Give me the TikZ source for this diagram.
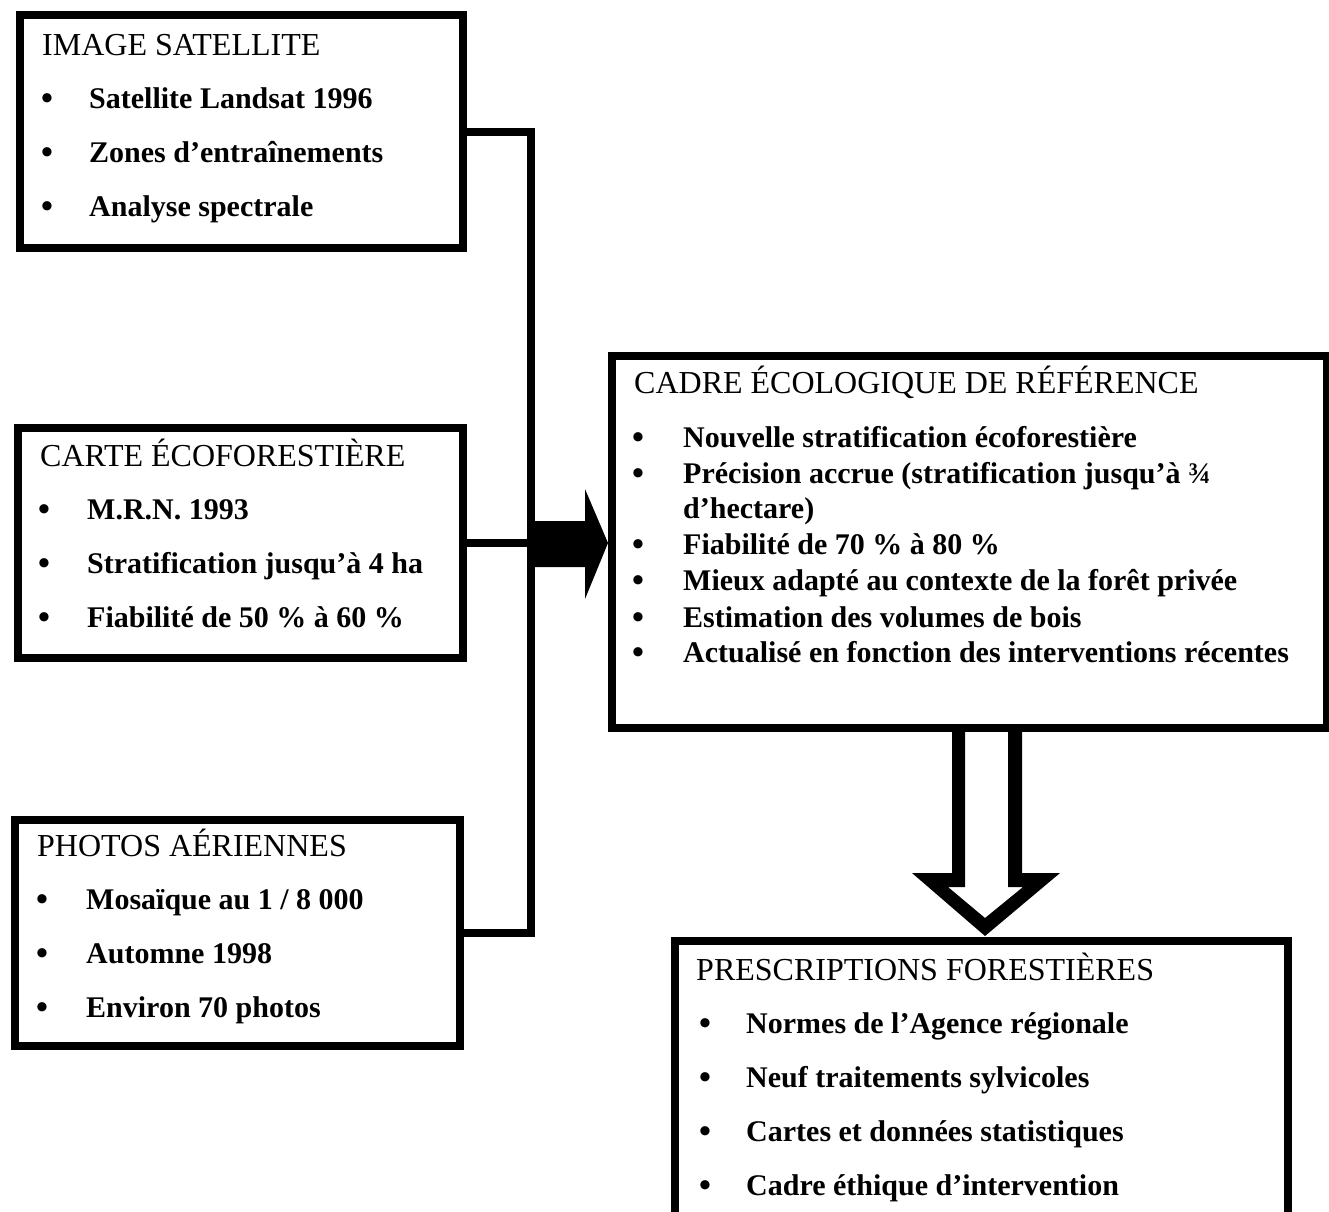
\documentclass[tikz,border=0pt]{standalone}
\usepackage{fontspec}
\setmainfont{Liberation Serif}
\usetikzlibrary{calc}
\begin{document}
\begin{tikzpicture}[x=1pt,y=-1pt,
  panel/.style={draw=black, line width=8pt, rectangle, inner sep=0pt, anchor=north west},
  conn/.style={draw=black, line width=8pt, line join=miter},
  head/.style={anchor=base west, inner sep=0pt, font=\fontsize{32}{36}\selectfont},
  item/.style={anchor=base west, inner sep=0pt, font=\fontsize{30}{36}\selectfont\bfseries},
  dot/.style={anchor=base, inner sep=0pt, font=\fontsize{34}{36}\selectfont\bfseries},
]
\useasboundingbox (0,0) rectangle (1329,1211);

% ---- panels ----
\node[panel, minimum width=443pt, minimum height=233pt] (sat) at (16,11) {};
\node[panel, minimum width=445pt, minimum height=230pt] (car) at (14,424) {};
\node[panel, minimum width=445pt, minimum height=226pt] (pho) at (11,816) {};
\node[panel, minimum width=715pt, minimum height=372pt] (cad) at (608,352) {};
\node[panel, minimum width=613pt, minimum height=293pt] (pre) at (671,937) {};

% ---- IMAGE SATELLITE ----
\node[head] (satT) at (42,55) {IMAGE SATELLITE};
\foreach \n/\yy/\t in {1/108/{Satellite Landsat 1996}, 2/162/{Zones d’entraînements}, 3/216/{Analyse spectrale}}{
  \node[dot] (satB\n) at (47,\yy+1) {•};
  \node[item] (satI\n) at (89,\yy) {\t};
}

% ---- CARTE ÉCOFORESTIÈRE ----
\node[head] (carT) at (40,466) {CARTE ÉCOFORESTIÈRE};
\foreach \n/\yy/\t in {1/519/{M.R.N. 1993}, 2/573/{Stratification jusqu’à 4 ha}, 3/627/{Fiabilité de 50 \% à 60 \%}}{
  \node[dot] (carB\n) at (44,\yy+1) {•};
  \node[item] (carI\n) at (87,\yy) {\t};
}

% ---- PHOTOS AÉRIENNES ----
\node[head] (phoT) at (37,856) {PHOTOS AÉRIENNES};
\foreach \n/\yy/\t in {1/909/{Mosaïque au 1 / 8 000}, 2/963/{Automne 1998}, 3/1017/{Environ 70 photos}}{
  \node[dot] (phoB\n) at (42,\yy+1) {•};
  \node[item] (phoI\n) at (86,\yy) {\t};
}

% ---- CADRE ÉCOLOGIQUE DE RÉFÉRENCE ----
\node[head] (cadT) at (634,393) {CADRE ÉCOLOGIQUE DE RÉFÉRENCE};
\foreach \n/\yy/\t in {1/447/{Nouvelle stratification écoforestière},
                       2/483/{Précision accrue (stratification jusqu’à ¾},
                       4/554/{Fiabilité de 70 \% à 80 \%},
                       5/590/{Mieux adapté au contexte de la forêt privée},
                       6/627/{Estimation des volumes de bois},
                       7/662/{Actualisé en fonction des interventions récentes}}{
  \node[dot] (cadB\n) at (638,\yy+1) {•};
  \node[item] (cadI\n) at (683,\yy) {\t};
}
\node[item] (cadI3) at (683,518) {d’hectare)};

% ---- PRESCRIPTIONS FORESTIÈRES ----
\node[head] (preT) at (696,980) {PRESCRIPTIONS FORESTIÈRES};
\foreach \n/\yy/\t in {1/1033/{Normes de l’Agence régionale}, 2/1087/{Neuf traitements sylvicoles},
                       3/1141/{Cartes et données statistiques}, 4/1195/{Cadre éthique d’intervention}}{
  \node[dot] (preB\n) at (705,\yy+1) {•};
  \node[item] (preI\n) at (746,\yy) {\t};
}

% ---- collector line joining the three sources ----
\coordinate (bus) at (531,0);
\draw[conn] (sat.east) -| (bus |- pho.east) -- (pho.east);
\draw[conn] (car.east) -- (bus |- car.east);

% ---- solid arrow into the reference frame ----
\coordinate (a0) at (bus |- car.east);
\fill ($(a0)+(-4,-22)$) -- ($(a0)+(54,-22)$) -- ($(a0)+(54,-54)$)
      -- (cad.west |- a0) -- ($(a0)+(54,56)$) -- ($(a0)+(54,24)$)
      -- ($(a0)+(-4,24)$) -- cycle;

% ---- hollow arrow down to the prescriptions ----
\fill[even odd rule]
  (952,724) -- (952,873) -- (912,873) -- (985,936) -- (1060,873) -- (1022,873) -- (1022,724) -- cycle
  (965,724) -- (965,887) -- (948,887) -- (985,918) -- (1023,887) -- (1008,887) -- (1008,724) -- cycle;
\end{tikzpicture}
\end{document}
